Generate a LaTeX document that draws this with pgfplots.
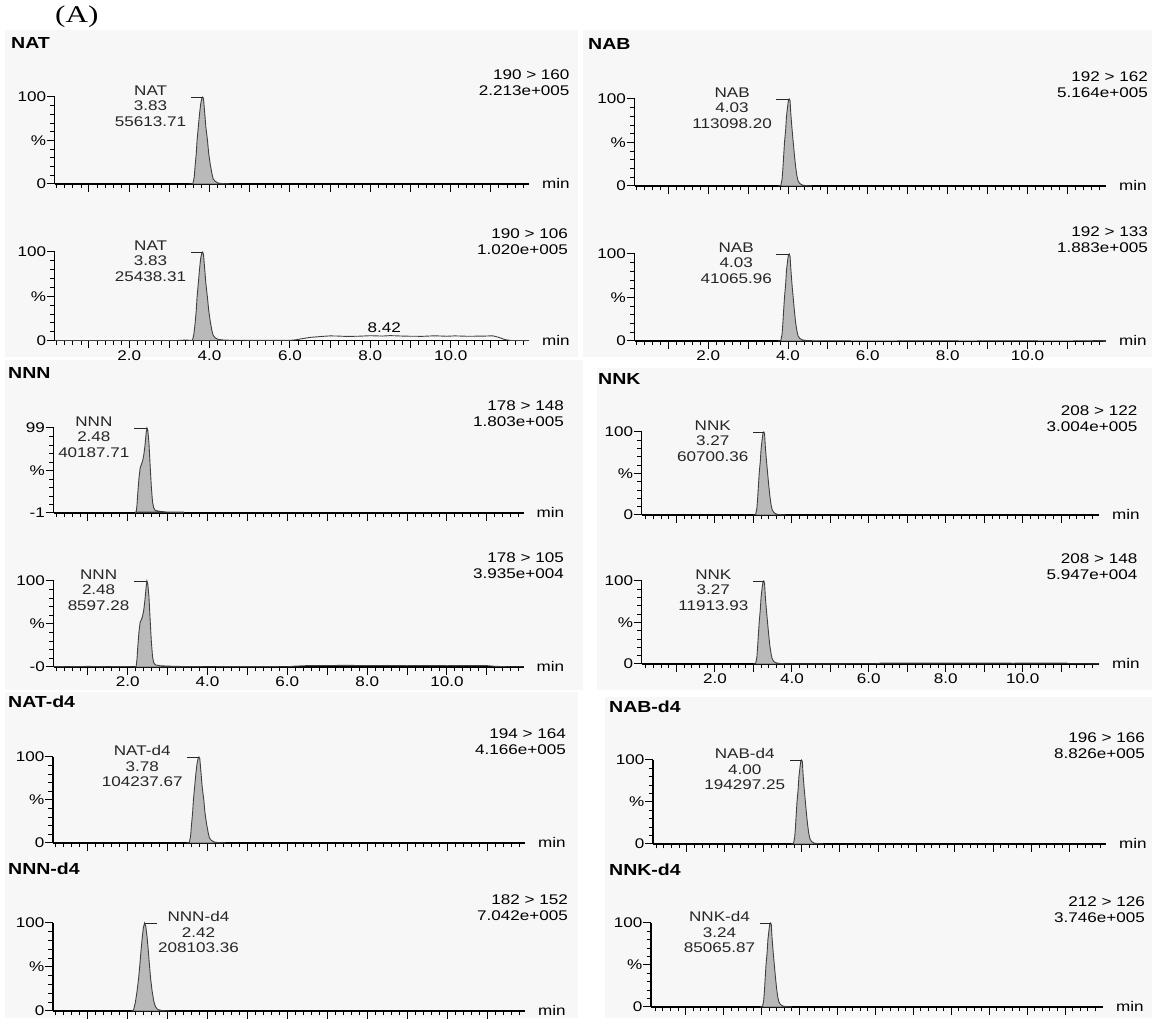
\documentclass[border=0pt]{standalone}
\usepackage{pgfplots}
\pgfplotsset{compat=1.18}
\usepackage{fontspec}
\setmainfont{Liberation Sans}[FakeStretch=1.22]
\newfontfamily\serifA{Liberation Serif}[FakeStretch=1.3]
\definecolor{bg}{HTML}{F7F7F7}
\definecolor{pk}{HTML}{B9B9B9}
\newcommand\fs{\fontsize{14}{15.5}\selectfont}
\newcommand\fb{\fontsize{16}{17}\selectfont\bfseries}

\pgfplotsset{
 chrom/.style={
  scale only axis, anchor=south west, clip=false,
  axis x line=bottom, axis y line=left,
  axis line style={-, line width=1.3pt, black},
  tick align=outside, major tick length=8pt, minor tick length=4.5pt,
  major tick style={line width=1pt, black},
  minor tick style={line width=0.8pt, black},
  xtick={1,2,3,4,5,6,7,8,9,10,11},
  minor xtick={0.2,0.4,0.6,0.8,1.2,1.4,1.6,1.8,2.2,2.4,2.6,2.8,3.2,3.4,3.6,3.8,4.2,4.4,4.6,4.8,5.2,5.4,5.6,5.8,6.2,6.4,6.6,6.8,7.2,7.4,7.6,7.8,8.2,8.4,8.6,8.8,9.2,9.4,9.6,9.8,10.2,10.4,10.6,10.8,11.2,11.4,11.6,11.8},
  xticklabels={,,,,,,,,,,},
  ymin=0, ymax=100,
  ytick={0,50,100}, minor ytick={10,20,30,40,60,70,80,90},
  yticklabels={0,\%,100},
  tick label style={font=\fontsize{14}{14}\selectfont},
  yticklabel style={inner sep=0.5pt},
  xticklabel style={inner sep=2pt},
 },
 labx/.style={xticklabels={,2.0,,4.0,,6.0,,8.0,,10.0,}},
 peak/.style={fill=pk, draw=black!75, line width=0.9pt},
 trace/.style={draw=black!75, line width=0.9pt},
}
\tikzset{
 brk/.style={line width=0.9pt, black!85},
 lab/.style={font=\fs, align=center, inner sep=0pt},
 tr/.style={font=\fs, align=right, inner sep=0pt, anchor=north east},
 ttl/.style={font=\fb, inner sep=0pt, anchor=north west},
}
\newcommand\minlab{\node[anchor=base west, font=\fs, inner sep=0pt, xshift=13pt, yshift=-5pt] at (rel axis cs:1,0) {min};}

\begin{document}
\begin{tikzpicture}[x=1pt,y=1pt]
\useasboundingbox (0,0) rectangle (1157,1020);
% panel backgrounds
\fill[bg] (5,663) rectangle (578,990);
\fill[bg] (583,663) rectangle (1152,990);
\fill[bg] (5,330) rectangle (583,660);
\fill[bg] (597,330) rectangle (1152,652);
\fill[bg] (5,2) rectangle (578,328);
\fill[bg] (605,2) rectangle (1152,323);

\node[anchor=base west, inner sep=0pt, font=\serifA\fontsize{24}{24}\selectfont] at (55,997) {(A)};

% titles
\node[ttl] at (11,983) {NAT};
\node[ttl] at (588,982) {NAB};
\node[ttl] at (8,653) {NNN};
\node[ttl] at (598,647) {NNK};
\node[ttl] at (8,324) {NAT-d4};
\node[ttl] at (8,157) {NNN-d4};
\node[ttl] at (609,319) {NAB-d4};
\node[ttl] at (609,156) {NNK-d4};

% transitions
\node[tr] at (569.7,950) {190 > 160\\2.213e+005};
\node[tr] at (568,791) {190 > 106\\1.020e+005};
\node[tr] at (1148,948) {192 > 162\\5.164e+005};
\node[tr] at (1148,793) {192 > 133\\1.883e+005};
\node[tr] at (564,619) {178 > 148\\1.803e+005};
\node[tr] at (564,467) {178 > 105\\3.935e+004};
\node[tr] at (1137.6,614) {208 > 122\\3.004e+005};
\node[tr] at (1137.6,466) {208 > 148\\5.947e+004};
\node[tr] at (566,291) {194 > 164\\4.166e+005};
\node[tr] at (568,125) {182 > 152\\7.042e+005};
\node[tr] at (1145,287) {196 > 166\\8.826e+005};
\node[tr] at (1145,123) {212 > 126\\3.746e+005};

% ---------- P1 NAT 190>160
\begin{axis}[chrom, at={(54.8pt,836pt)}, width=474.2pt, height=87pt, xmin=0.15, xmax=11.95]
\addplot[peak] coordinates {(3.50,0)(3.57,0)(3.59,1)(3.62,8)(3.64,20)(3.67,35)(3.69,50)(3.72,65)(3.75,80)(3.78,92)(3.81,99)(3.83,100)(3.85,98)(3.88,82)(3.91,65)(3.95,50)(3.98,35)(4.02,22)(4.06,12)(4.09,6)(4.14,3)(4.22,1)(4.35,0.3)(4.50,0)} \closedcycle;
\draw[brk] (axis cs:3.83,100) -- ++(-12pt,0pt) node[lab, anchor=north east, xshift=-4pt, yshift=12pt] {NAT\\3.83\\55613.71};
\minlab
\end{axis}

% ---------- P2 NAT 190>106
\begin{axis}[chrom, labx, at={(54.8pt,679.5pt)}, width=474.2pt, height=88.5pt, xmin=0.15, xmax=11.95]
\addplot[trace] coordinates {(0.15,0)(3.20,0)(3.30,0.3)(3.45,0.4)(3.55,0)};
\addplot[peak] coordinates {(3.55,0)(3.58,1)(3.61,7)(3.64,19)(3.67,34)(3.69,49)(3.72,64)(3.75,80)(3.78,93)(3.81,99)(3.83,100)(3.85,97)(3.88,81)(3.91,64)(3.95,48)(3.98,34)(4.02,21)(4.06,11)(4.09,6)(4.14,3)(4.22,1.2)(4.35,0.5)(4.50,0.3)} \closedcycle;
\addplot[trace] coordinates {(4.50,0.3)(5.0,0.2)(5.5,0.1)(6.0,0.1)(6.15,0.8)(6.3,2)(6.5,3.5)(6.8,4.6)(7.0,5.2)(7.2,5.0)(7.4,4.6)(7.7,4.8)(8.0,5.4)(8.3,5.0)(8.5,5.5)(8.8,5.0)(9.0,4.8)(9.3,4.7)(9.6,5.3)(9.9,4.8)(10.1,5.2)(10.4,4.8)(10.8,4.9)(11.05,5.3)(11.2,3.5)(11.35,1)(11.5,0)(11.95,0)};
\node[font=\fs, inner sep=0pt, anchor=south] at (axis cs:8.35,8.5) {8.42};
\draw[brk] (axis cs:3.83,100) -- ++(-12pt,0pt) node[lab, anchor=north east, xshift=-4pt, yshift=12pt] {NAT\\3.83\\25438.31};
\minlab
\end{axis}

% ---------- P3 NAB 192>162
\begin{axis}[chrom, at={(634.5pt,834pt)}, width=471.5pt, height=87pt, xmin=0.15, xmax=11.97]
\addplot[peak] coordinates {(3.75,0)(3.80,0)(3.82,1)(3.85,8)(3.87,20)(3.89,35)(3.91,50)(3.94,65)(3.96,80)(3.99,92)(4.01,99)(4.03,100)(4.05,98)(4.07,82)(4.10,65)(4.13,50)(4.16,35)(4.19,22)(4.22,12)(4.25,6)(4.29,3)(4.36,1)(4.47,0.3)(4.60,0)} \closedcycle;
\draw[brk] (axis cs:4.03,100) -- ++(-13pt,0pt) node[lab, anchor=north east, xshift=-4pt, yshift=12pt] {NAB\\4.03\\113098.20};
\minlab
\end{axis}

% ---------- P4 NAB 192>133
\begin{axis}[chrom, labx, at={(634.5pt,679pt)}, width=471.5pt, height=87pt, xmin=0.15, xmax=11.97]
\addplot[trace, draw=black!35, line width=0.6pt] coordinates {(4.60,0.3)(5.5,0.5)(6.5,0.6)(7.5,0.7)(8.5,0.6)(9.5,0.7)(10.5,0.6)(11.2,0.5)(11.97,0)};
\addplot[peak] coordinates {(3.75,0)(3.80,0)(3.82,1)(3.85,8)(3.87,21)(3.89,36)(3.91,50)(3.94,66)(3.96,81)(3.99,93)(4.01,99)(4.03,100)(4.05,97)(4.07,82)(4.10,64)(4.13,49)(4.16,34)(4.19,21)(4.22,12)(4.25,6)(4.29,3)(4.36,1.2)(4.47,0.5)(4.60,0.3)} \closedcycle;
\draw[brk] (axis cs:4.03,100) -- ++(-13pt,0pt) node[lab, anchor=north east, xshift=-4pt, yshift=12pt] {NAB\\4.03\\41065.96};
\minlab
\end{axis}

% ---------- P5 NNN 178>148
\begin{axis}[chrom, at={(53.6pt,507pt)}, width=469.9pt, height=85pt, xmin=0.14, xmax=11.92,
  ymin=-1, ymax=99, ytick={-1,49,99}, minor ytick={9,19,29,39,59,69,79,89}, yticklabels={-1,\%,99}]
\addplot[peak] coordinates {(2.19,-1)(2.21,0)(2.23,8)(2.25,22)(2.28,40)(2.31,52)(2.34,56)(2.37,60)(2.40,67)(2.43,78)(2.46,93)(2.48,99)(2.50,97)(2.53,82)(2.56,55)(2.59,30)(2.62,12)(2.65,5)(2.69,2)(2.80,1)(3.00,0)(3.20,-0.5)(3.40,-1)} \closedcycle;
\draw[brk] (axis cs:2.48,99) -- ++(-13pt,0pt) node[lab, anchor=north east, xshift=-4pt, yshift=12pt] {NNN\\2.48\\40187.71};
\minlab
\end{axis}

% ---------- P6 NNN 178>105
\begin{axis}[chrom, labx, at={(53.6pt,353pt)}, width=469.9pt, height=86pt, xmin=0.14, xmax=11.92,
  yticklabels={-0,\%,100}]
\addplot[trace] coordinates {(0.14,0.5)(0.5,0.3)(1.0,0.7)(1.5,0.3)(2.0,0.6)(2.19,0)};
\addplot[peak] coordinates {(2.19,0)(2.21,1)(2.23,9)(2.25,23)(2.28,41)(2.31,52)(2.34,55)(2.37,59)(2.40,66)(2.43,78)(2.46,93)(2.48,100)(2.50,97)(2.53,82)(2.56,55)(2.59,30)(2.62,12)(2.65,5)(2.69,2.5)(2.80,1.5)(3.00,1)(3.20,0.8)(3.40,0.5)} \closedcycle;
\addplot[trace] coordinates {(3.40,0.5)(4.0,0.3)(5.0,0.5)(6.0,0.3)(6.2,1.0)(6.5,1.6)(7.0,1.7)(7.5,1.9)(8.0,1.6)(8.5,1.8)(9.0,1.5)(9.5,1.7)(10.0,1.5)(10.5,1.7)(11.0,1.6)(11.2,0.8)(11.5,0.3)(11.92,0.3)};
\draw[brk] (axis cs:2.48,100) -- ++(-13pt,0pt) node[lab, anchor=north east, xshift=-4pt, yshift=12pt] {NNN\\2.48\\8597.28};
\minlab
\end{axis}

% ---------- P7 NNK 208>122
\begin{axis}[chrom, at={(641.8pt,505pt)}, width=457.2pt, height=83pt, xmin=0.10, xmax=11.98]
\addplot[peak] coordinates {(2.99,0)(3.04,0)(3.06,1)(3.09,8)(3.11,20)(3.13,35)(3.15,50)(3.18,65)(3.20,80)(3.23,92)(3.25,99)(3.27,100)(3.29,98)(3.31,82)(3.34,65)(3.37,50)(3.40,35)(3.43,22)(3.46,12)(3.49,6)(3.53,3)(3.60,1)(3.71,0.3)(3.84,0)} \closedcycle;
\draw[brk] (axis cs:3.27,100) -- ++(-11pt,0pt) node[lab, anchor=north east, xshift=-4pt, yshift=12pt] {NNK\\3.27\\60700.36};
\minlab
\end{axis}

% ---------- P8 NNK 208>148
\begin{axis}[chrom, labx, at={(641.8pt,356pt)}, width=457.2pt, height=83pt, xmin=0.10, xmax=11.98]
\addplot[peak] coordinates {(2.99,0)(3.04,0)(3.06,1)(3.09,8)(3.11,21)(3.13,36)(3.15,50)(3.18,66)(3.20,81)(3.23,93)(3.25,99)(3.27,100)(3.29,97)(3.31,81)(3.34,64)(3.37,49)(3.40,34)(3.43,21)(3.46,12)(3.49,6)(3.53,3)(3.60,1.2)(3.71,0.5)(3.84,0.2)} \closedcycle;
\addplot[trace] coordinates {(3.84,0.2)(5.0,0.2)(6.2,0.3)(6.3,1.0)(9.7,1.0)(9.75,0.6)(9.8,1.1)(11.15,1.0)(11.2,0.3)(11.98,0.2)};
\draw[brk] (axis cs:3.27,100) -- ++(-11pt,0pt) node[lab, anchor=north east, xshift=-4pt, yshift=12pt] {NNK\\3.27\\11913.93};
\minlab
\end{axis}

% ---------- P9 NAT-d4 194>164
\begin{axis}[chrom, at={(53pt,177pt)}, width=472pt, height=86pt, xmin=0.13, xmax=11.93]
\addplot[peak] coordinates {(3.45,0)(3.52,0)(3.54,1)(3.57,8)(3.59,20)(3.62,35)(3.64,50)(3.67,65)(3.70,80)(3.73,92)(3.76,99)(3.78,100)(3.80,98)(3.83,82)(3.86,65)(3.90,50)(3.93,35)(3.97,22)(4.01,12)(4.04,6)(4.09,3)(4.17,1)(4.30,0.3)(4.45,0)} \closedcycle;
\draw[brk] (axis cs:3.78,100) -- ++(-12pt,0pt) node[lab, anchor=north east, xshift=-4pt, yshift=12pt] {NAT-d4\\3.78\\104237.67};
\minlab
\end{axis}

% ---------- P10 NNN-d4 182>152
\begin{axis}[chrom, at={(53pt,9pt)}, width=472pt, height=88pt, xmin=0.13, xmax=11.93]
\addplot[peak] coordinates {(2.08,0)(2.12,0)(2.15,2)(2.19,10)(2.23,22)(2.27,37)(2.30,52)(2.33,68)(2.36,83)(2.39,95)(2.42,100)(2.45,96)(2.48,85)(2.51,70)(2.54,53)(2.57,37)(2.61,22)(2.65,11)(2.69,5)(2.74,2)(2.80,1)(2.90,0.3)(3.05,0)} \closedcycle;
\draw[brk] (axis cs:2.42,100) -- ++(12pt,0pt) node[lab, anchor=north west, xshift=1pt, yshift=12pt] {NNN-d4\\2.42\\208103.36};
\minlab
\end{axis}

% ---------- P11 NAB-d4 196>166
\begin{axis}[chrom, at={(653pt,176pt)}, width=453pt, height=84pt, xmin=0.12, xmax=11.95]
\addplot[peak] coordinates {(3.72,0)(3.77,0)(3.79,1)(3.82,8)(3.84,20)(3.86,35)(3.88,50)(3.91,65)(3.93,80)(3.96,92)(3.98,99)(4.00,100)(4.02,98)(4.04,82)(4.07,65)(4.10,50)(4.13,35)(4.16,22)(4.19,12)(4.22,6)(4.26,3)(4.33,1)(4.44,0.3)(4.57,0)} \closedcycle;
\draw[brk] (axis cs:4.00,100) -- ++(-12pt,0pt) node[lab, anchor=north east, xshift=-4pt, yshift=12pt] {NAB-d4\\4.00\\194297.25};
\minlab
\end{axis}

% ---------- P12 NNK-d4 212>126
\begin{axis}[chrom, at={(651pt,13pt)}, width=452pt, height=84pt, xmin=0.09, xmax=12.0]
\addplot[peak] coordinates {(2.96,0)(3.01,0)(3.03,1)(3.06,8)(3.08,20)(3.10,35)(3.12,50)(3.15,65)(3.17,80)(3.20,92)(3.22,99)(3.24,100)(3.26,98)(3.28,82)(3.31,65)(3.34,50)(3.37,35)(3.40,22)(3.43,12)(3.46,6)(3.50,3)(3.57,1)(3.68,0.3)(3.81,0)} \closedcycle;
\draw[brk] (axis cs:3.24,100) -- ++(-11pt,0pt) node[lab, anchor=north east, xshift=-4pt, yshift=12pt] {NNK-d4\\3.24\\85065.87};
\minlab
\end{axis}
\end{tikzpicture}
\end{document}
